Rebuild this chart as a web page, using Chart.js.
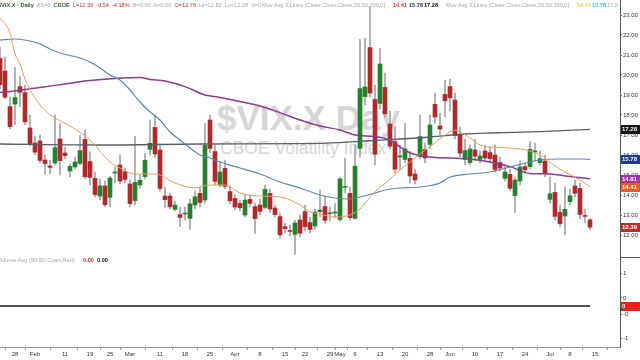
<!DOCTYPE html>
<html>
<head>
<meta charset="utf-8">
<title>$VIX.X Daily</title>
<script src="https://cdn.jsdelivr.net/npm/chart.js@4.4.1/dist/chart.umd.min.js"></script>
<style>
  html, body { margin: 0; padding: 0; background: #fff; }
  #wrap { position: relative; width: 640px; height: 360px; overflow: hidden; font-family: "Liberation Sans", Arial, sans-serif; }
  #chart { position: absolute; left: 0; top: 0; z-index: 1; }
  .wm { position: absolute; color: #d6d6d6; white-space: nowrap; line-height: 1; z-index: 0; }
  #hdr { position: absolute; left: 0; top: 0; width: 618px; height: 12px; overflow: hidden; z-index: 2; }
  #hdr1 { position: absolute; left: -2px; top: 2px; display: flex; gap: 3px; }
  .t { position: absolute; top: 2px; font-size: 5.6px; line-height: 7px; white-space: nowrap; color: #a6a6a6; }
  #hdr1 .t { position: static; }
  .r { color: #c4302b; }
</style>
</head>
<body>
<div id="wrap">
  <div class="wm" style="left:217px;top:100px;font-size:35px;font-weight:bold;">$VIX.X Day</div>
  <div class="wm" style="left:220px;top:140px;font-size:17.5px;">CBOE Volatility Index</div>
  <canvas id="chart" width="640" height="360"></canvas>
  <div id="hdr">
    <div id="hdr1">
      <span class="t" style="color:#2f5a2f;font-weight:bold;">$VIX.X - Daily</span>
      <span class="t">AS=0</span>
      <span class="t" style="color:#3a6e3a;font-weight:bold;">CBOE</span>
      <span class="t r">L=12.39</span>
      <span class="t r">-0.54</span>
      <span class="t r">-4.18%</span>
      <span class="t">B=0.00</span>
      <span class="t">A=0.00</span>
      <span class="t r">O=12.76</span>
      <span class="t">Hi=12.82</span>
      <span class="t">Lo=12.28</span>
      <span class="t">V=0</span>
    </div>
    <span class="t" style="left:262px;">Mov Avg 3 Lines (Close,Close,Close,20,50,200,0)</span>
    <span class="t" style="left:393px;color:#d0301e;font-weight:bold;">14.41</span>
    <span class="t" style="left:409px;color:#1c2f8a;font-weight:bold;">15.78</span>
    <span class="t" style="left:424px;color:#111;font-weight:bold;">17.28</span>
    <span class="t" style="left:446px;">Mov Avg 3 Lines (Close,Close,Close,20,50,200,0)</span>
    <span class="t" style="left:577px;color:#e6d040;font-weight:bold;">14.41</span>
    <span class="t" style="left:592px;color:#3cc6e6;font-weight:bold;">15.78</span>
    <span class="t" style="left:607px;color:#9bd29b;font-weight:bold;">17.28</span>
  </div>
  <span class="t" style="top:257px;left:-3px;z-index:2;font-size:5.8px;">Volume Avg (50,50,Cyan,Red)</span>
  <span class="t r" style="top:257px;left:83px;z-index:2;font-weight:bold;">0.00</span>
  <span class="t" style="top:257px;left:97px;z-index:2;color:#111;font-weight:bold;">0.00</span>
</div>
<script>
// trading days, Jan 23 2019 (index -3) .. Jul 12 2019 (index 115)
const firstDay = -3;

const open = [20.83, 20.2, 18.42, 18.55, 19.42, 19.12, 17.35, 16.6, 16.7, 15.75,
  15.45, 15.6, 16.8, 16.1, 15.2, 15.4, 15.58, 16.78, 15.67, 14.83,
  13.95, 14.45, 13.88, 15.1, 15.5, 15.17, 14.55, 13.72, 14.5, 14.92,
  16.28, 17.38, 16.25, 13.95, 13.95, 13.28, 13.02, 13.05, 12.83, 13.5,
  14.08, 13.75, 17.75, 16.17, 14.5, 15.33, 14.17, 13.83, 13.58, 13.0,
  13.78, 13.42, 13.5, 13.38, 14.08, 13.35, 12.92, 12.42, 12.22, 12.03,
  12.75, 13.17, 12.62, 12.45, 13.17, 13.42, 13.06, 13.1, 12.78, 14.38,
  14.08, 12.83, 16.33, 18.92, 21.37, 18.78, 18.58, 19.38, 17.55, 16.67,
  15.9, 15.78, 15.83, 15.05, 15.92, 16.28, 16.53, 18.53, 17.45, 19.03,
  19.42, 18.75, 17.03, 15.78, 15.62, 16.25, 15.78, 16.2, 16.12, 16.0,
  15.62, 14.83, 15.03, 13.97, 14.7, 15.42, 15.42, 16.15, 15.62, 15.7,
  13.78, 14.13, 13.13, 12.95, 13.67, 14.45, 14.33, 12.97, 12.76];

const high = [21.4, 20.9, 18.9, 20.38, 19.92, 19.5, 18.0, 16.95, 17.0, 16.0,
  15.75, 18.0, 17.58, 16.4, 15.55, 15.9, 17.0, 17.25, 16.17, 15.15,
  14.8, 14.7, 14.95, 15.4, 16.0, 15.35, 14.75, 16.92, 15.0, 16.08,
  17.75, 18.0, 16.5, 14.4, 14.1, 13.7, 13.4, 13.4, 13.8, 14.2,
  14.4, 17.58, 18.0, 16.5, 15.67, 15.75, 14.45, 14.0, 13.75, 14.0,
  14.0, 13.6, 13.8, 14.5, 14.3, 13.5, 13.1, 12.6, 12.5, 12.75,
  13.0, 13.5, 12.9, 13.3, 14.25, 13.92, 13.4, 13.6, 14.9, 15.85,
  14.4, 16.5, 21.78, 21.83, 23.38, 19.5, 21.33, 20.1, 18.2, 17.42,
  16.5, 17.58, 16.2, 15.3, 18.0, 16.6, 18.0, 19.1, 18.1, 19.75,
  19.8, 19.1, 17.4, 16.8, 16.5, 16.8, 16.2, 16.5, 16.4, 16.5,
  15.9, 15.5, 15.3, 14.9, 15.7, 15.6, 16.67, 16.6, 16.2, 16.0,
  14.9, 14.6, 13.5, 14.4, 14.3, 14.75, 14.6, 13.3, 12.82];

const low = [19.3, 18.8, 17.3, 17.5, 18.42, 17.5, 16.45, 16.0, 15.6, 15.05,
  15.05, 15.5, 15.0, 15.8, 14.9, 15.3, 15.5, 14.8, 14.5, 13.9,
  13.75, 13.4, 13.42, 14.6, 14.55, 14.6, 13.4, 13.5, 14.35, 14.8,
  16.0, 15.9, 14.2, 13.4, 13.3, 13.2, 12.42, 12.75, 12.28, 13.3,
  13.4, 13.6, 16.1, 14.5, 14.4, 14.3, 13.55, 13.25, 13.2, 12.9,
  13.4, 12.08, 13.0, 13.3, 13.1, 12.9, 11.85, 12.1, 11.95, 11.03,
  11.9, 12.2, 12.1, 12.3, 12.9, 12.6, 12.7, 12.85, 12.7, 14.1,
  12.75, 12.8, 15.9, 18.5, 18.9, 15.5, 18.3, 17.9, 16.3, 15.1,
  15.25, 15.6, 14.6, 14.55, 15.8, 15.6, 16.3, 17.6, 17.0, 17.9,
  18.2, 16.8, 15.9, 15.5, 15.5, 15.7, 15.6, 15.7, 15.6, 15.15,
  15.2, 14.7, 14.2, 13.13, 14.5, 15.1, 15.3, 15.7, 15.5, 14.9,
  13.6, 12.75, 12.4, 12.0, 13.5, 13.9, 12.8, 12.6, 12.28];

const close = [19.52, 18.89, 17.42, 18.87, 19.13, 17.66, 16.57, 16.14, 15.73, 15.57,
  15.38, 16.37, 15.72, 15.97, 15.43, 15.65, 16.22, 14.91, 14.88, 14.02,
  14.46, 13.51, 14.85, 15.15, 14.7, 14.78, 13.57, 14.63, 14.74, 15.74,
  16.59, 16.05, 14.33, 13.77, 13.41, 13.5, 12.88, 13.1, 13.56, 13.91,
  13.63, 16.48, 16.33, 14.68, 15.15, 14.43, 13.71, 13.4, 13.36, 13.74,
  13.58, 12.82, 13.18, 14.28, 13.3, 13.02, 12.01, 12.32, 12.18, 12.6,
  12.09, 12.42, 12.28, 13.14, 13.25, 12.73, 13.11, 13.12, 14.8, 14.42,
  12.87, 15.44, 19.32, 19.4, 19.1, 16.04, 20.55, 18.06, 16.44, 15.29,
  15.96, 16.31, 14.95, 14.75, 16.92, 15.85, 17.5, 17.9, 17.3, 18.71,
  18.86, 16.97, 16.09, 16.22, 16.3, 15.94, 15.95, 15.85, 15.82, 15.28,
  15.35, 15.15, 14.33, 14.75, 15.4, 15.26, 16.28, 16.21, 15.82, 15.08,
  14.06, 12.93, 12.57, 13.28, 13.96, 14.09, 13.03, 12.93, 12.39];

// index has no volume (V=0)
const volume = close.map(() => 0);

// moving averages: day index + value
const ma20Idx = [-3, -1, 0, 1, 2, 5, 8, 11, 15, 19, 21, 24, 28, 32, 36, 39, 42, 45, 49, 53,
  57, 59, 61, 64, 67, 69, 70, 72, 75, 77, 80, 81, 84, 86, 88, 89, 91, 93, 95, 99,
  103, 105, 108, 110, 113, 115];
const ma20 = [22.85, 22.1, 21.05, 20.55, 19.8, 18.5, 17.85, 17.45, 16.75, 15.65,
  15.35, 15.05, 15.05, 14.6, 14.35, 14.5, 14.5, 14.1, 13.95, 13.9,
  13.5, 13.15, 13.05, 12.9, 13.0, 13.3, 13.6, 14.15, 14.8, 15.25,
  15.85, 16.05, 16.6, 17.0, 17.25, 17.15, 16.85, 16.5, 16.4, 16.35,
  16.2, 16.0, 15.45, 15.15, 14.75, 14.41];

const ma50Idx = [-3, 0, 2, 5, 7, 9, 13, 15, 17, 19, 21, 23, 25, 27, 29, 31, 33, 35, 37, 39,
  41, 45, 49, 53, 57, 61, 64, 67, 69, 72, 74, 77, 81, 85, 87, 91, 95, 99, 103, 105,
  109, 113, 115];
const ma50 = [21.75, 21.8, 21.75, 21.55, 21.3, 21.1, 20.85, 20.65, 20.35, 20.0,
  19.75, 19.25, 18.65, 18.15, 17.75, 17.15, 16.75, 16.35, 16.0, 15.85,
  15.65, 15.35, 15.05, 14.65, 14.35, 14.0, 13.85, 13.8, 13.9, 14.1,
  14.25, 14.35, 14.4, 14.6, 14.9, 15.05, 15.15, 15.4, 15.65, 15.75,
  15.8, 15.8, 15.78];

const ma200Idx = [-3, 17, 37, 57, 65, 70, 77, 83, 90, 95, 105, 115];
const ma200 = [16.55, 16.5, 16.55, 16.57, 16.62, 16.7, 16.8, 16.9, 17.05, 17.1, 17.17, 17.28];

const maPurpleIdx = [-3, 0, 5, 10, 15, 20, 25, 27, 30, 34, 38, 41, 45, 49, 53, 57, 61, 65, 68, 72,
  75, 77, 79, 83, 87, 91, 95, 99, 103, 107, 111, 115];
const maPurple = [19.12, 19.2, 19.38, 19.55, 19.72, 19.82, 19.87, 19.78, 19.7, 19.42,
  19.0, 18.88, 18.67, 18.45, 18.12, 17.75, 17.45, 17.25, 17.0, 16.92,
  16.75, 16.4, 16.1, 15.9, 15.85, 15.8, 15.65, 15.42, 15.08, 15.05,
  14.92, 14.81];

// x axis labels (day index -> text)
const tickIdx = [0, 4, 10, 15, 19, 23, 29, 34, 39, 44, 49, 54, 58, 63, 65, 68, 73, 78, 83, 87,
  92, 97, 102, 107, 111, 116];
const tickText = ['28', 'Feb', '11', '19', '25', 'Mar', '11', '18', '25', 'Apr', '8', '15', '22', '29', 'May',
  '6', '13', '20', '28', 'Jun', '10', '17', '24', 'Jul', '8', '15'];
const priceTicks = [12, 13, 14, 15, 16, 17, 18, 19, 20, 21, 22, 23];
const volTicks = [1, 0.25, -0.25, -1];
const volTickText = ['1', '0', '-0', '-1'];

const RED = '#b1282b';
const GREEN = '#23812b';
const FONT = '"Liberation Sans", Arial, sans-serif';

const xs = close.map((c, k) => firstDay + k);
const bodies = xs.map((x, k) => ({ x: x, y: [open[k], close[k]] }));
const wicks = xs.map((x, k) => ({ x: x, y: [low[k], high[k]] }));
const bodyColors = close.map((c, k) => c >= open[k] ? GREEN : RED);
const pts = (idx, vals) => idx.map((x, k) => ({ x: x, y: vals[k] }));

const last = a => a[a.length - 1];
const tags = [
  [last(ma200), '#141414'],
  [last(ma50), '#1b3c96'],
  [last(maPurple), '#a236a8'],
  [last(ma20), '#ea5d1e'],
  [last(close), '#b3302c']
];

const tagPlugin = {
  id: 'tags',
  afterDraw(chart) {
    const ctx = chart.ctx;
    const y = chart.scales.y, yv = chart.scales.yv;
    ctx.save();
    ctx.font = 'bold 6px ' + FONT;
    ctx.textBaseline = 'middle';
    tags.forEach(([v, bg]) => {
      const py = Math.round(y.getPixelForValue(v));
      ctx.fillStyle = bg;
      ctx.fillRect(621, py - 4, 19, 9);
      ctx.fillStyle = '#fff';
      ctx.fillText(v.toFixed(2), 622, py + 0.5);
    });
    const pz = Math.round(yv.getPixelForValue(0));
    ctx.fillStyle = '#e8231c';
    ctx.fillRect(621, pz - 4, 19, 9);
    ctx.fillStyle = '#fff';
    ctx.fillText('0', 622, pz + 0.5);
    ctx.strokeStyle = '#555';
    ctx.lineWidth = 1;
    ctx.beginPath();
    ctx.moveTo(620, Math.round(yv.top) + 0.5);
    ctx.lineTo(640, Math.round(yv.top) + 0.5);
    ctx.stroke();
    ctx.restore();
  }
};

const noPad = s => { s.paddingTop = 0; s.paddingBottom = 0; s.paddingLeft = 0; s.paddingRight = 0; };

new Chart(document.getElementById('chart'), {
  type: 'bar',
  data: {
    datasets: [
      { type: 'line', data: pts(ma20Idx, ma20), yAxisID: 'y', borderColor: '#eb9a62', borderWidth: 1, pointRadius: 0, cubicInterpolationMode: 'monotone', order: 0 },
      { type: 'line', data: pts(ma50Idx, ma50), yAxisID: 'y', borderColor: '#5a86b4', borderWidth: 1.2, pointRadius: 0, cubicInterpolationMode: 'monotone', order: 0 },
      { type: 'line', data: pts(ma200Idx, ma200), yAxisID: 'y', borderColor: '#5c5c68', borderWidth: 1.3, pointRadius: 0, cubicInterpolationMode: 'monotone', order: 0 },
      { type: 'line', data: pts(maPurpleIdx, maPurple), yAxisID: 'y', borderColor: '#8a3a90', borderWidth: 1.5, pointRadius: 0, cubicInterpolationMode: 'monotone', order: 0 },
      { type: 'bar', data: bodies, yAxisID: 'y', backgroundColor: bodyColors, barThickness: 4, minBarLength: 1, grouped: false, order: 1 },
      { type: 'bar', data: wicks, yAxisID: 'y', backgroundColor: '#a4a4a4', barThickness: 1, grouped: false, order: 2 },
      { type: 'line', data: pts(xs, volume), yAxisID: 'yv', borderColor: '#555', borderWidth: 2, pointRadius: 0, order: 0 }
    ]
  },
  options: {
    responsive: false,
    animation: false,
    events: [],
    layout: { padding: 0 },
    plugins: { legend: { display: false }, tooltip: { enabled: false } },
    scales: {
      x: {
        type: 'linear', position: 'bottom', min: -3, max: 121, offset: false,
        afterBuildTicks: s => { s.ticks = tickIdx.map(v => ({ value: v })); },
        afterFit: s => { s.height = 13; noPad(s); },
        ticks: { autoSkip: false, maxRotation: 0, padding: 1, color: '#333', font: { size: 6, family: FONT },
                 callback: v => tickText[tickIdx.indexOf(v)] },
        grid: { drawOnChartArea: false, tickLength: 3, color: '#999' },
        border: { display: true, color: '#9a9a9a' }
      },
      y: {
        type: 'linear', position: 'right', stack: 'panes', stackWeight: 257, min: 10.9, max: 23.75,
        afterBuildTicks: s => { s.ticks = priceTicks.map(v => ({ value: v })); },
        afterFit: s => { s.width = 20; noPad(s); },
        ticks: { padding: 1, color: '#333', font: { size: 6, family: FONT }, callback: v => v.toFixed(2) },
        grid: { drawOnChartArea: false, tickLength: 2, color: '#666' },
        border: { display: true, color: '#555' }
      },
      yv: {
        type: 'linear', position: 'right', stack: 'panes', stackWeight: 90, min: -1.25, max: 1.5,
        afterBuildTicks: s => { s.ticks = volTicks.map(v => ({ value: v })); },
        afterFit: s => { s.width = 20; noPad(s); },
        ticks: { padding: 1, color: '#333', font: { size: 6, family: FONT }, callback: v => volTickText[volTicks.indexOf(v)] },
        grid: { drawOnChartArea: false, tickLength: 2, color: '#666' },
        border: { display: true, color: '#555' }
      }
    }
  },
  plugins: [tagPlugin]
});
</script>
</body>
</html>
